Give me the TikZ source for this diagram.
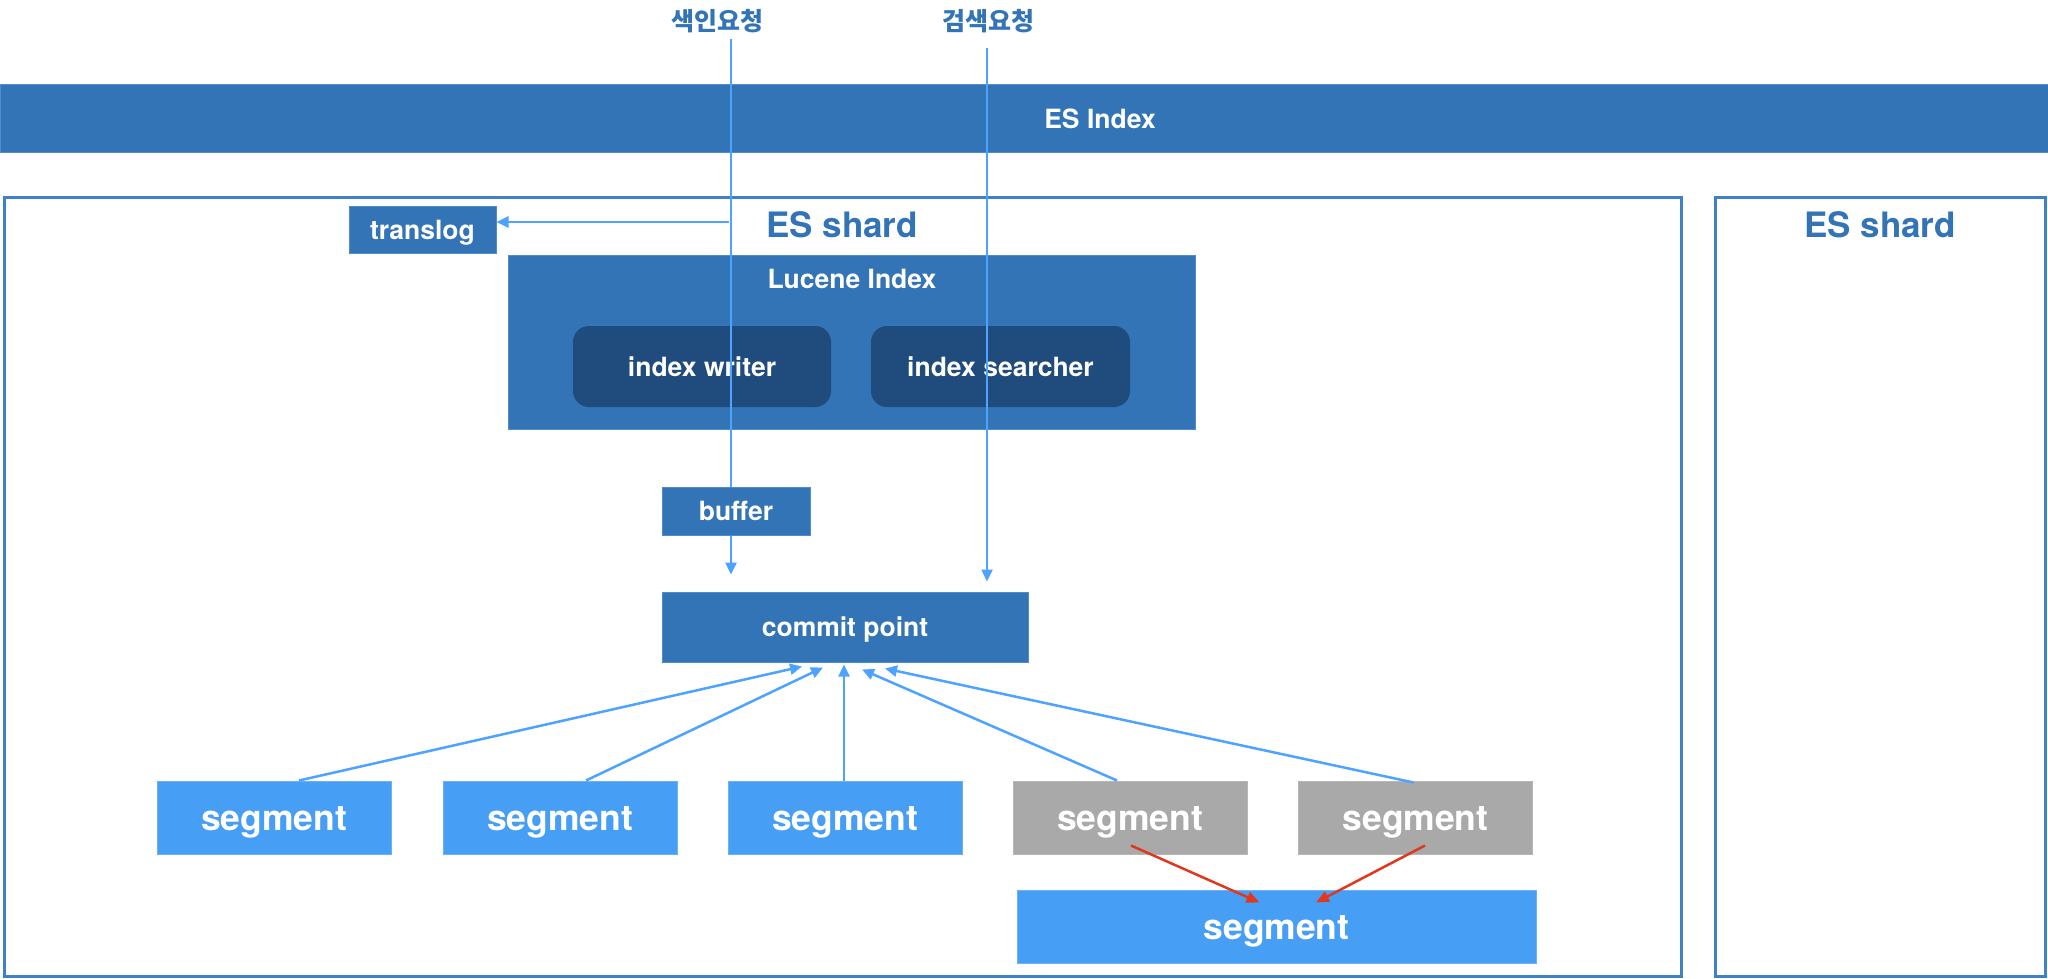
\documentclass[tikz,border=0pt]{standalone}
\usepackage{fontspec}
\setmainfont{TeX Gyre Heros}
\newfontfamily\krfont{Noto Sans CJK KR}
\usetikzlibrary{arrows.meta}
\definecolor{esblue}{HTML}{3374B6}
\definecolor{esedge}{HTML}{4F8CCB}
\definecolor{navy}{HTML}{1F4B7D}
\definecolor{segblue}{HTML}{479EF5}
\definecolor{seggray}{HTML}{A9A9A9}
\definecolor{lineblue}{HTML}{4DA3FF}
\definecolor{redline}{HTML}{E0371F}
\definecolor{shardedge}{HTML}{3F80C6}
\tikzset{
  box/.style={rectangle, inner sep=0pt, text=white, text height=19.6pt, text depth=0pt, font=\bfseries\fontsize{26.5}{30}\selectfont},
  darkbox/.style={box, fill=esblue, draw=esedge, line width=1pt},
  navybox/.style={box, fill=navy, rounded corners=16pt},
  segbox/.style={box, fill=segblue, draw=segblue!80!white, line width=1pt, minimum width=234pt, minimum height=73pt, text height=26pt, font=\bfseries\fontsize{35.5}{40}\selectfont},
  graybox/.style={segbox, fill=seggray, draw=seggray!85!white},
  shardbox/.style={rectangle, inner sep=0pt, draw=shardedge, line width=3pt},
  shardlbl/.style={inner sep=0pt, text=esblue, font=\bfseries\fontsize{35}{40}\selectfont},
  krlbl/.style={inner sep=0pt, text=esblue, font=\krfont\bfseries\fontsize{25}{30}\selectfont},
  wlbl/.style={inner sep=0pt, text=white, font=\bfseries\fontsize{26.5}{30}\selectfont},
  conn/.style={draw=lineblue, line width=2.5pt},
  arr/.style={conn, -{Triangle[length=12pt,width=11pt]}},
  redarr/.style={draw=redline, line width=2.5pt, -{Triangle[length=13pt,width=11pt]}}
}
\begin{document}
\begin{tikzpicture}[x=1pt,y=-1pt]
\useasboundingbox (0,0) rectangle (2048,979);
% ES Index bar
\node[darkbox, minimum width=2048pt, minimum height=68pt] (esindex) at (1024,119) {};
\node[wlbl] (esindexlbl) at (1100,119) {ES Index};
% shards
\node[shardbox, minimum width=1677pt, minimum height=779pt] (shard1) at (842.5,586.5) {};
\node[shardlbl] (shard1lbl) at (842,225) {ES shard};
\node[shardbox, minimum width=330pt, minimum height=779pt] (shard2) at (1880,586.5) {};
\node[shardlbl] (shard2lbl) at (1880,225) {ES shard};
% translog
\node[darkbox, minimum width=147pt, minimum height=47pt] (translog) at (422.5,229.5) {translog};
% Lucene
\node[darkbox, minimum width=687pt, minimum height=174pt] (lucene) at (851.5,342) {};
\node[wlbl] (lucenelbl) at (852,279) {Lucene Index};
\node[navybox, minimum width=258pt, minimum height=81pt] (writer) at (702,366.5) {index writer};
\node[navybox, minimum width=259pt, minimum height=81pt] (searcher) at (1000.5,366.5) {index searcher};
% buffer & commit
\node[darkbox, minimum width=148pt, minimum height=48pt] (buffer) at (736,511) {buffer};
\node[darkbox, minimum width=366pt, minimum height=70pt] (commit) at (845,627) {commit point};
% segments
\node[segbox] (seg1) at (274,817.5) {segment};
\node[segbox] (seg2) at (560,817.5) {segment};
\node[segbox] (seg3) at (845,817.5) {segment};
\node[graybox] (seg4) at (1130,817.5) {segment};
\node[graybox] (seg5) at (1415.5,817.5) {segment};
\node[segbox, minimum width=519pt] (merged) at (1276.5,926.5) {segment};
% request labels
\node[krlbl] (idxlbl) at (717,21) {색인요청};
\node[krlbl] (srclbl) at (988,21) {검색요청};
\coordinate (idxtop) at (731,39);
\coordinate (srctop) at (987,48);
\coordinate (tlfrom) at (729,222);
% connectors
\draw[conn] (idxtop) -- (idxtop |- buffer.north);
\draw[arr] (idxtop |- buffer.south) -- ([yshift=17pt]commit.north -| idxtop);
\draw[arr] (srctop) -- ([yshift=10pt]commit.north -| srctop);
\draw[arr] (tlfrom) -- (tlfrom -| translog.east);
\draw[arr] ([xshift=25pt]seg1.north) -- ([xshift=-43pt,yshift=-4pt]commit.south);
\draw[arr] ([xshift=26pt]seg2.north) -- ([xshift=-22pt,yshift=-5pt]commit.south);
\draw[arr] ([xshift=-1pt]seg3.north) -- ([xshift=-1pt,yshift=-2pt]commit.south);
\draw[arr] ([xshift=-13pt]seg4.north) -- ([xshift=17pt,yshift=-7pt]commit.south);
\draw[arr] ([xshift=-2pt,yshift=-2pt]seg5.north) -- ([xshift=40pt,yshift=-6pt]commit.south);
\draw[redarr] ([xshift=1pt,yshift=9pt]seg4.south) -- ([xshift=-17pt,yshift=-13pt]merged.north);
\draw[redarr] ([xshift=9.5pt,yshift=9pt]seg5.south) -- ([xshift=39.5pt,yshift=-13pt]merged.north);
\end{tikzpicture}
\end{document}
